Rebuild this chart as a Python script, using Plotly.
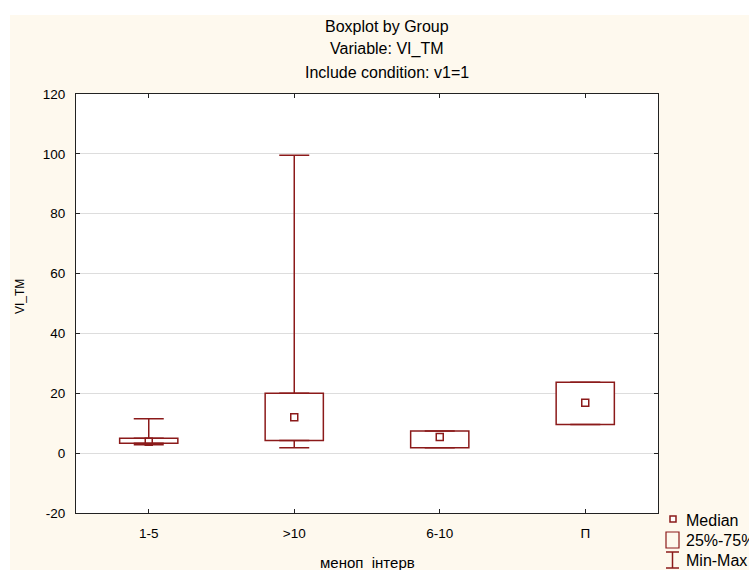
import plotly.graph_objects as go

# ---- data ----
categories = ["1-5", ">10", "6-10", "П"]
q1_vals = [3.3, 4.2, 1.8, 9.6]
median_vals = [3.8, 12.0, 5.4, 16.8]
q3_vals = [5.0, 20.0, 7.4, 23.7]
min_vals = [2.8, 1.8, 1.8, 9.6]
max_vals = [11.5, 99.5, 7.4, 23.7]
y_ticks = [-20, 0, 20, 40, 60, 80, 100, 120]
y_tick_labels = ["-20", "0", "20", "40", "60", "80", "100", "120"]

RED = "#8B1A1A"
CREAM = "#FEF9EE"
FONT = "Liberation Sans, Arial, sans-serif"

W, H = 749, 570
L, R, T, B = 76, 91, 94, 57
PW = W - L - R
PH = H - T - B


def px_x(px):
    return (px - L) / PW


def px_y(py):
    return (H - B - py) / PH


fig = go.Figure()

# boxes (25%-75%)
fig.add_trace(go.Bar(
    x=categories,
    y=[q3 - q1 for q1, q3 in zip(q1_vals, q3_vals)],
    base=q1_vals,
    width=0.4,
    marker=dict(color="white", line=dict(color=RED, width=1.5)),
    hoverinfo="skip",
))

# upper whiskers
fig.add_trace(go.Scatter(
    x=categories, y=q3_vals, mode="markers",
    marker=dict(size=1, opacity=0),
    error_y=dict(type="data", symmetric=False,
                 array=[mx - q3 for mx, q3 in zip(max_vals, q3_vals)],
                 arrayminus=[0] * len(categories),
                 color=RED, thickness=1.5, width=15),
    hoverinfo="skip",
))
# lower whiskers
fig.add_trace(go.Scatter(
    x=categories, y=q1_vals, mode="markers",
    marker=dict(size=1, opacity=0),
    error_y=dict(type="data", symmetric=False,
                 array=[0] * len(categories),
                 arrayminus=[q1 - mn for q1, mn in zip(q1_vals, min_vals)],
                 color=RED, thickness=1.5, width=15),
    hoverinfo="skip",
))
# medians
fig.add_trace(go.Scatter(
    x=categories, y=median_vals, mode="markers",
    marker=dict(symbol="square-open", size=7, color=RED, line=dict(width=1.5, color=RED)),
    hoverinfo="skip",
))

shapes = [
    # white margins top/left (rest of page is cream)
    dict(type="rect", xref="paper", yref="paper", x0=-0.3, x1=1.4,
         y0=px_y(15), y1=px_y(-20), fillcolor="white", line=dict(width=0), layer="below"),
    dict(type="rect", xref="paper", yref="paper", x0=px_x(-20), x1=px_x(10),
         y0=px_y(600), y1=px_y(-20), fillcolor="white", line=dict(width=0), layer="below"),
    # legend symbols
    dict(type="rect", xref="paper", yref="paper", x0=px_x(670), x1=px_x(676),
         y0=px_y(522), y1=px_y(516), line=dict(color=RED, width=1.5), fillcolor="white"),
    dict(type="rect", xref="paper", yref="paper", x0=px_x(666), x1=px_x(679),
         y0=px_y(548), y1=px_y(532), line=dict(color=RED, width=1.2), fillcolor="rgba(0,0,0,0)"),
    dict(type="line", xref="paper", yref="paper", x0=px_x(672.5), x1=px_x(672.5),
         y0=px_y(568), y1=px_y(552), line=dict(color=RED, width=1.5)),
    dict(type="line", xref="paper", yref="paper", x0=px_x(666), x1=px_x(679),
         y0=px_y(552), y1=px_y(552), line=dict(color=RED, width=1.5)),
    dict(type="line", xref="paper", yref="paper", x0=px_x(666), x1=px_x(679),
         y0=px_y(568), y1=px_y(568), line=dict(color=RED, width=1.5)),
]

annotations = []
for txt, py in [("Boxplot by Group", 27), ("Variable: VI_TM", 49), ("Include condition: v1=1", 72)]:
    annotations.append(dict(text=txt, xref="paper", yref="paper", x=px_x(387), y=px_y(py),
                            xanchor="center", yanchor="middle", showarrow=False,
                            font=dict(family=FONT, size=16, color="black")))
for txt, py in [("Median", 520), ("25%-75%", 540), ("Min-Max", 560)]:
    annotations.append(dict(text=txt, xref="paper", yref="paper", x=px_x(684), y=px_y(py),
                            xanchor="left", yanchor="middle", showarrow=False,
                            font=dict(family=FONT, size=16, color="black")))
annotations.append(dict(text="меноп_інтерв", xref="paper", yref="paper", x=px_x(367), y=px_y(562),
                        xanchor="center", yanchor="middle", showarrow=False,
                        font=dict(family=FONT, size=15, color="black")))
annotations.append(dict(text="VI_TM", xref="paper", yref="paper", x=px_x(20), y=px_y(297),
                        xanchor="center", yanchor="middle", showarrow=False, textangle=-90,
                        font=dict(family=FONT, size=12, color="black")))

fig.update_layout(
    width=W, height=H,
    margin=dict(l=L, r=R, t=T, b=B, pad=0),
    paper_bgcolor=CREAM, plot_bgcolor="white",
    showlegend=False,
    font=dict(family=FONT, size=13, color="black"),
    shapes=shapes, annotations=annotations,
    xaxis=dict(type="category", categoryorder="array", categoryarray=categories,
               range=[-0.5, 3.5], showline=True, linecolor="#222", linewidth=1,
               mirror="ticks", ticks="inside", ticklen=4, tickcolor="#222",
               showgrid=False, zeroline=False, ticklabelstandoff=8,
               tickfont=dict(family=FONT, size=13.5, color="black")),
    yaxis=dict(range=[-20, 120], tickvals=y_ticks, ticktext=y_tick_labels,
               showline=True, linecolor="#222",
               linewidth=1, mirror="ticks", ticks="inside", ticklen=4, tickcolor="#222",
               showgrid=True, gridcolor="#DDDDDD", gridwidth=1, zeroline=False,
               ticklabelstandoff=7,
               tickfont=dict(family=FONT, size=13.5, color="black")),
)

fig.write_html("out.html", config={"displayModeBar": False},
               post_script="document.body.style.margin='0';document.body.style.padding='0';")
